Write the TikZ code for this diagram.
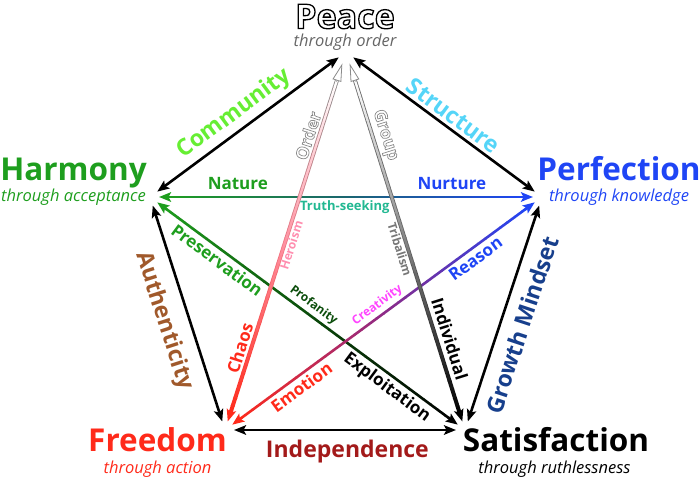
\documentclass[tikz,border=0pt]{standalone}
\usepackage{fontspec}
\setmainfont{Open Sans}
\usetikzlibrary{arrows.meta,calc}
\definecolor{HarmGreen}{HTML}{1E9E1E}
\definecolor{PerfBlue}{HTML}{1F45F5}
\definecolor{FreeRed}{HTML}{FF2A1A}
\definecolor{PeaceGray}{HTML}{666666}
\definecolor{CommGreen}{HTML}{66EE33}
\definecolor{StructCyan}{HTML}{55D5F8}
\definecolor{AuthBrown}{HTML}{A0592B}
\definecolor{GrowthBlue}{HTML}{173F8C}
\definecolor{IndepRed}{HTML}{A31A1A}
\definecolor{TruthTeal}{HTML}{22B892}
\definecolor{ProfGreen}{HTML}{0B4D0B}
\definecolor{CreaPink}{HTML}{FF44FF}
\definecolor{HeroPink}{HTML}{FF8FB0}
\definecolor{TribGray}{HTML}{777777}
\definecolor{OutlineGray}{HTML}{8A8A8A}
\definecolor{NatMid}{HTML}{1A6670}
\definecolor{ReasMid}{HTML}{8E2A86}
\definecolor{ChaosMid}{HTML}{FF8E9E}
\definecolor{ChaosRim}{HTML}{F07A88}
% hollow letters: white fill, stroked rim (#1 is an rgb triple)
\newcommand\outlinetext[3]{%
  \textcolor{white}{\special{pdf:literal direct 2 Tr #2 w #1 RG}#3\special{pdf:literal direct 0 Tr}}}
% line in many short pieces, colour running #3 -> #4 -> #5
\newcommand\shadeline[6]{%
  \foreach \k in {0,...,39}{%
    \ifnum\k<20 \pgfmathtruncatemacro\mixp{\k*5+3}\colorlet{segcol}{#4!\mixp!#3}%
    \else \pgfmathtruncatemacro\mixp{(\k-20)*5+3}\colorlet{segcol}{#5!\mixp!#4}\fi
    \draw[line width=#6,segcol,shorten >=-0.5pt] ($(#1)!\k/40!(#2)$) -- ($(#1)!\k/40+1/40!(#2)$);
  }}
\newcommand\gradarrow[5]{%
  \coordinate (ga) at ($(#1)!9pt!(#2)$);
  \coordinate (gb) at ($(#2)!9pt!(#1)$);
  \coordinate (gsa) at ($(ga)!7pt!(gb)$);
  \coordinate (gsb) at ($(gb)!7pt!(ga)$);
  \shadeline{gsa}{gsb}{#3}{#4}{#5}{2.6pt}
  \draw[line width=2.6pt,#3,->] ($(ga)!12pt!(gb)$) -- (ga);
  \draw[line width=2.6pt,#5,->] ($(gb)!12pt!(ga)$) -- (gb);
}
\newcommand\hollowarrow[8]{%
  \coordinate (ha) at ($(#1)!9pt!(#2)$);
  \coordinate (hb) at ($(#2)!12pt!(#1)$);
  \coordinate (hsa) at ($(ha)!7pt!(hb)$);
  \coordinate (hsb) at ($(hb)!16pt!(ha)$);
  \shadeline{hsa}{hsb}{#6}{#7}{#8}{4pt}
  \shadeline{hsa}{hsb}{#3}{#4}{#5}{2.3pt}
  \draw[line width=2.6pt,#3,->] ($(ha)!12pt!(hb)$) -- (ha);
  \draw[line width=0.8pt,OutlineGray,-{Triangle[length=18pt,width=9pt,fill=white]}] ($(hb)!19pt!(ha)$) -- (hb);
}

\begin{document}
\begin{tikzpicture}[x=1pt,y=-1pt,
  >={Stealth[length=12pt,width=9.5pt,inset=2.5pt]},
  title/.style={font=\bfseries\fontsize{31.5}{34}\selectfont,inner sep=0pt,anchor=base},
  subtitle/.style={font=\itshape\fontsize{16.5}{18}\selectfont,inner sep=0pt,anchor=base},
  biglbl/.style={font=\bfseries\fontsize{23}{26}\selectfont,inner sep=0pt,sloped},
  midlbl/.style={font=\bfseries\fontsize{17}{19}\selectfont,inner sep=0pt,sloped},
  smalllbl/.style={font=\bfseries\fontsize{12}{14}\selectfont,inner sep=0pt,sloped},
  rimarrow/.style={line width=2.6pt,<->,shorten <=9pt,shorten >=9pt}
]
\useasboundingbox (0,0) rectangle (700,479);

% corners of the pentagon
\coordinate (vP) at (346,52);
\coordinate (vH) at (150,197);
\coordinate (vQ) at (542,197);
\coordinate (vF) at (225,430);
\coordinate (vS) at (465,430);

% the five ends
\node[title] (peace) at (345,28.5) {\fontsize{34}{36}\selectfont\outlinetext{0 0 0}{1.3}{Peace}};
\node[subtitle,text=PeaceGray] (peacesub) at (345,46.5) {through order};
\node[title,text=HarmGreen] (harmony) at (73.5,180) {Harmony};
\node[subtitle,text=HarmGreen] (harmonysub) at (73.5,201.5) {through acceptance};
\node[title,text=PerfBlue] (perfection) at (619,180) {Perfection};
\node[subtitle,text=PerfBlue] (perfectionsub) at (619,201.5) {through knowledge};
\node[title,text=FreeRed] (freedom) at (157.5,451.5) {Freedom};
\node[subtitle,text=FreeRed] (freedomsub) at (157.5,473) {through action};
\node[title] (satisfaction) at (556,451.5) {Satisfaction};
\node[subtitle] (satisfactionsub) at (554.5,473) {through ruthlessness};

% outer ring
\draw[rimarrow] (vH) -- (vP) node[biglbl,pos=.48,above=4pt,text=CommGreen] (community) {Community};
\draw[rimarrow] (vP) -- (vQ) node[biglbl,pos=.51,above=3pt,text=StructCyan] (structure) {Structure};
\draw[rimarrow] (vH) -- (vF) node[biglbl,pos=.5,below=12pt,text=AuthBrown] (authenticity) {Authenticity};
\draw[rimarrow] (vS) -- (vQ) node[biglbl,pos=.48,below=11pt,text=GrowthBlue] (growth) {Growth Mindset};
\draw[rimarrow] (vF) -- (vS) node[biglbl,pos=.51,below=9pt,text=IndepRed] (independence) {Independence};

% inner star
\gradarrow{vH}{vQ}{HarmGreen}{NatMid}{PerfBlue}
\gradarrow{vH}{vS}{HarmGreen}{ProfGreen}{black}
\gradarrow{vF}{vQ}{FreeRed}{ReasMid}{PerfBlue}
\hollowarrow{vF}{vP}{FreeRed}{ChaosMid}{white}{FreeRed}{ChaosRim}{OutlineGray}
\hollowarrow{vS}{vP}{black}{gray}{white}{black}{gray!80!black}{OutlineGray}

\path (vH) -- (vQ)
  node[midlbl,pos=.224,above=7pt,text=HarmGreen] (nature) {Nature}
  node[smalllbl,pos=.497,below=3pt,text=TruthTeal,font=\bfseries\fontsize{13}{15}\selectfont] (truth) {Truth-seeking}
  node[midlbl,pos=.77,above=7pt,text=PerfBlue] (nurture) {Nurture};
\path (vH) -- (vS)
  node[midlbl,pos=.234,below=4pt,text=HarmGreen] (preservation) {Preservation}
  node[smalllbl,pos=.5,above=4pt,text=ProfGreen] (profanity) {Profanity}
  node[midlbl,pos=.776,below=4pt] (exploitation) {Exploitation};
\path (vF) -- (vQ)
  node[midlbl,pos=.221,below=4pt,text=FreeRed] (emotion) {Emotion}
  node[smalllbl,pos=.5,above=4pt,text=CreaPink] (creativity) {Creativity}
  node[midlbl,pos=.771,below=4pt,text=PerfBlue] (reason) {Reason};
\path (vF) -- (vP)
  node[midlbl,pos=.208,above=4pt,text=FreeRed] (chaos) {Chaos}
  node[smalllbl,pos=.494,below=2pt,text=HeroPink] (heroism) {Heroism}
  node[midlbl,pos=.77,above=4pt] (order) {\outlinetext{0.54 0.54 0.54}{0.7}{Order}};
\path (vS) -- (vP)
  node[midlbl,pos=.231,above=6pt] (individual) {Individual}
  node[smalllbl,pos=.484,below=3pt,text=TribGray] (tribalism) {Tribalism}
  node[midlbl,pos=.77,above=4pt] (group) {\outlinetext{0.54 0.54 0.54}{0.7}{Group}};
\end{tikzpicture}
\end{document}
